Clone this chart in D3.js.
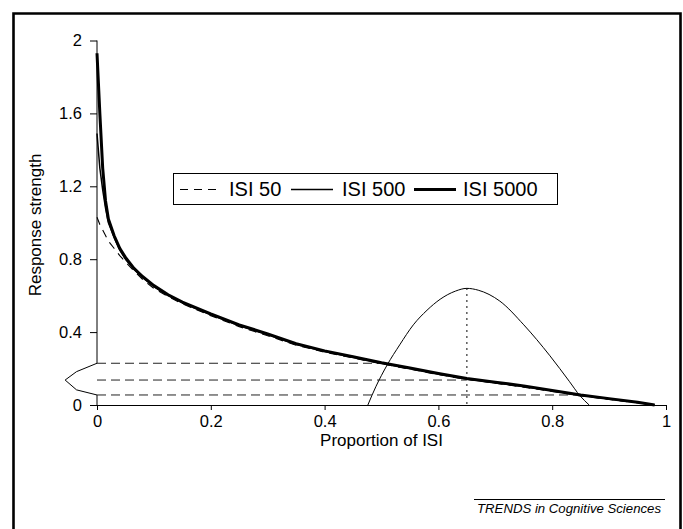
<!DOCTYPE html>
<html>
<head>
<meta charset="utf-8">
<script src="https://cdn.jsdelivr.net/npm/d3@7"></script>
<style>
  html, body { margin: 0; padding: 0; background: #fff; }
  svg { display: block; font-family: "Liberation Sans", Arial, sans-serif; }
</style>
</head>
<body>
<div id="chart"></div>
<script>
// proportion of ISI at which the curves were read
const props = [0, 0.005, 0.01, 0.015, 0.02, 0.03, 0.04, 0.05, 0.065, 0.08, 0.1, 0.125, 0.15, 0.2, 0.25, 0.3, 0.35, 0.4, 0.45, 0.5, 0.55, 0.6, 0.65, 0.7, 0.75, 0.8, 0.85, 0.9, 0.95, 0.98]
const isi5000 = [1.93, 1.6, 1.3, 1.12, 1.02, 0.93, 0.86, 0.81, 0.75, 0.705, 0.655, 0.605, 0.565, 0.5, 0.44, 0.39, 0.337, 0.297, 0.265, 0.232, 0.203, 0.173, 0.145, 0.125, 0.105, 0.08, 0.055, 0.035, 0.015, 0]
const isi500 = [1.49, 1.3, 1.18, 1.08, 1.0, 0.92, 0.85, 0.8, 0.745, 0.7, 0.65, 0.6, 0.56, 0.495, 0.435, 0.385, 0.332, 0.293, 0.262, 0.229, 0.2, 0.17, 0.142, 0.122, 0.1, 0.078, 0.053, 0.033, 0.013, 0]
const isi50 = [1.03, 0.99, 0.96, 0.93, 0.9, 0.86, 0.82, 0.785, 0.735, 0.69, 0.64, 0.595, 0.555, 0.49, 0.43, 0.38, 0.328, 0.29, 0.258, 0.226, 0.197, 0.167, 0.14, 0.12, 0.098, 0.075, 0.05, 0.03, 0.012, 0]

const seriesNames = ["ISI 50", "ISI 500", "ISI 5000"]

// bell-shaped distribution over the ISI
const bellX = [0.476, 0.49, 0.51, 0.532, 0.556, 0.58, 0.603, 0.63, 0.65, 0.67, 0.708, 0.75, 0.796, 0.83, 0.849, 0.865]
const bellY = [0, 0.1, 0.22, 0.33, 0.44, 0.52, 0.58, 0.625, 0.64, 0.63, 0.57, 0.44, 0.27, 0.13, 0.05, 0]
const peakX = 0.65
const peakY = 0.64

// distribution of response strengths drawn on the y axis
const sideX = [0, -0.036, -0.056, -0.036, 0]
const sideY = [0.229, 0.183, 0.137, 0.083, 0.055]

// dashed levels and where they stop
const levelY = [0.229, 0.137, 0.055]
const levelEnd = [0.509, 0.65, 0.85]

const xTicks = [0, 0.2, 0.4, 0.6, 0.8, 1]
const yTicks = [0, 0.4, 0.8, 1.2, 1.6, 2]

const W = 683, H = 529
const margin = { top: 40.5, right: 17, bottom: 124, left: 97 }

const svg = d3.select("#chart").append("svg")
  .attr("width", W).attr("height", H)

// outer frame (open at the bottom)
svg.append("path")
  .attr("d", `M13.5,${H + 5}V13.5H680.5V${H + 5}`)
  .attr("fill", "none").attr("stroke", "#000").attr("stroke-width", 2.6)

const x = d3.scaleLinear().domain([0, 1]).range([margin.left, W - margin.right])
const y = d3.scaleLinear().domain([0, 2]).range([H - margin.bottom, margin.top])

// x axis
const xAxis = svg.append("g")
  .attr("transform", `translate(0,${y(0)})`)
  .call(d3.axisBottom(x).tickValues(xTicks).tickSize(5).tickSizeOuter(0).tickPadding(5).tickFormat(d => String(d)))
xAxis.select(".domain").attr("stroke", "#000")
xAxis.selectAll("text").attr("font-size", 16.5).attr("fill", "#000").attr("font-family", null)

// y axis, the line is broken where the side distribution sits
const yAxis = svg.append("g")
  .attr("transform", `translate(${x(0)},0)`)
  .call(d3.axisLeft(y).tickValues(yTicks).tickSize(7).tickPadding(8).tickFormat(d => String(d)))
yAxis.select(".domain").remove()
yAxis.selectAll("text").attr("font-size", 16.5).attr("fill", "#000").attr("font-family", null)

svg.append("line")
  .attr("x1", x(0)).attr("x2", x(0))
  .attr("y1", y(2)).attr("y2", y(levelY[0]))
  .attr("stroke", "#000")
svg.append("line")
  .attr("x1", x(0)).attr("x2", x(0))
  .attr("y1", y(levelY[2])).attr("y2", y(0))
  .attr("stroke", "#000")

const line = d3.line().x(d => x(d[0])).y(d => y(d[1]))

svg.append("path")
  .datum(sideX.map((v, i) => [v, sideY[i]]))
  .attr("d", line)
  .attr("fill", "none").attr("stroke", "#000").attr("stroke-width", 1)

// dashed levels
levelY.forEach((lv, i) => {
  svg.append("line")
    .attr("x1", x(0)).attr("x2", x(levelEnd[i]))
    .attr("y1", y(lv)).attr("y2", y(lv))
    .attr("stroke", "#222").attr("stroke-width", 1)
    .attr("stroke-dasharray", "9,5")
})

// bell curve and its peak marker
const smooth = d3.line().x(d => x(d[0])).y(d => y(d[1])).curve(d3.curveMonotoneX)
svg.append("path")
  .datum(bellX.map((v, i) => [v, bellY[i]]))
  .attr("d", smooth)
  .attr("fill", "none").attr("stroke", "#000").attr("stroke-width", 1)

svg.append("line")
  .attr("x1", x(peakX)).attr("x2", x(peakX))
  .attr("y1", y(peakY)).attr("y2", y(0))
  .attr("stroke", "#000").attr("stroke-width", 1.3)
  .attr("stroke-dasharray", "1.5,4.5")

// response curves
const styles = [
  { width: 1.1, dash: "8,6" },
  { width: 1.5, dash: null },
  { width: 3, dash: null }
]
const allSeries = [isi50, isi500, isi5000]

allSeries.forEach((vals, i) => {
  svg.append("path")
    .datum(props.map((p, j) => [p, vals[j]]))
    .attr("d", line)
    .attr("fill", "none")
    .attr("stroke", "#000")
    .attr("stroke-width", styles[i].width)
    .attr("stroke-dasharray", styles[i].dash)
    .attr("stroke-linejoin", "round")
})

// legend
const legend = svg.append("g")
legend.append("rect")
  .attr("x", 173.5).attr("y", 173.5).attr("width", 384).attr("height", 31)
  .attr("fill", "#fff").attr("stroke", "#000").attr("stroke-width", 1)

const legendLineX = [180, 291, 414]
const legendTextX = [229, 342, 463]
seriesNames.forEach((name, i) => {
  legend.append("line")
    .attr("x1", legendLineX[i]).attr("x2", legendLineX[i] + 42)
    .attr("y1", 189.5).attr("y2", 189.5)
    .attr("stroke", "#000")
    .attr("stroke-width", styles[i].width)
    .attr("stroke-dasharray", styles[i].dash)
  legend.append("text")
    .attr("x", legendTextX[i]).attr("y", 196)
    .attr("font-size", 20)
    .text(name)
})

// axis titles
svg.append("text")
  .attr("x", (x(0) + x(1)) / 2).attr("y", 446)
  .attr("text-anchor", "middle")
  .attr("font-size", 17)
  .text("Proportion of ISI")

svg.append("text")
  .attr("transform", "translate(41,225) rotate(-90)")
  .attr("text-anchor", "middle")
  .attr("font-size", 17)
  .text("Response strength")

// journal tag
svg.append("line")
  .attr("x1", 474).attr("x2", 665)
  .attr("y1", 499.5).attr("y2", 499.5)
  .attr("stroke", "#000").attr("stroke-width", 1)
svg.append("text")
  .attr("x", 661).attr("y", 513)
  .attr("text-anchor", "end")
  .attr("font-size", 13.2)
  .attr("font-style", "italic")
  .text("TRENDS in Cognitive Sciences")
</script>
</body>
</html>
